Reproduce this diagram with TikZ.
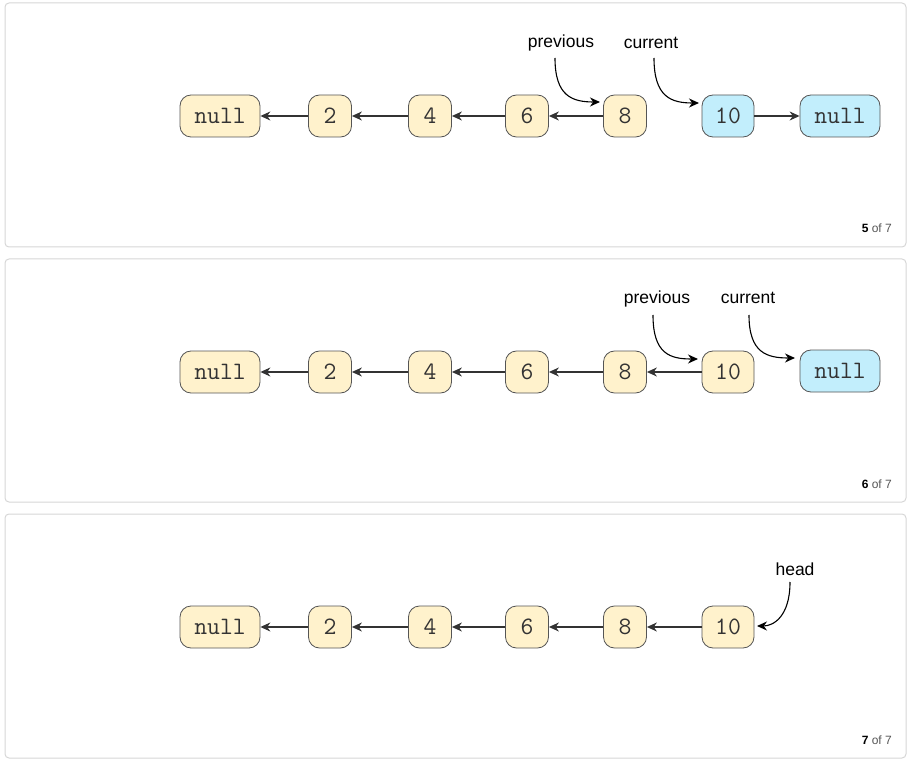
\documentclass[tikz,border=0pt]{standalone}
\usepackage{fontspec}
\setmainfont{Liberation Sans}
\usetikzlibrary{arrows.meta,positioning}
\definecolor{nodeyellow}{HTML}{FFF2CC}
\definecolor{nodeblue}{HTML}{C2EEFC}
\definecolor{nodeborder}{HTML}{555555}
\definecolor{textdark}{HTML}{333333}
\definecolor{panelborder}{HTML}{D6D6D6}
\definecolor{pagegray}{HTML}{555555}
\tikzset{
  box/.style={draw=nodeborder, line width=0.8pt, rounded corners=11pt, inner sep=0pt,
    minimum height=42pt, font=\ttfamily\fontsize{25}{25}\selectfont, text=textdark},
  small/.style={box, fill=nodeyellow, minimum width=43pt},
  ten/.style={box, minimum width=52pt},
  nullbox/.style={box, minimum width=80pt},
  link/.style={draw=textdark, line width=1.2pt, -{Stealth[length=10pt,width=9pt]}},
  pointer/.style={draw=black, line width=1.1pt, -{Stealth[length=10pt,width=9pt]}},
  lbl/.style={inner sep=0pt, font=\fontsize{17.5}{17.5}\selectfont, text=black},
  panel/.style={draw=panelborder, line width=1pt, rounded corners=4pt},
  pagelbl/.style={inner sep=0pt, anchor=east, font=\fontsize{12}{12}\selectfont, text=pagegray}
}
\begin{document}
\begin{tikzpicture}[x=1pt,y=-1pt]
\useasboundingbox (0,0) rectangle (911,762);
% panels
\draw[panel] (5,3) rectangle (906,247);
\draw[panel] (5,259) rectangle (906,502);
\draw[panel] (5,514) rectangle (906,758);

% ---------- panel 1 ----------
\node[nullbox, fill=nodeyellow] (a0) at (220,116) {null};
\node[small] (a2) at (330,116) {2};
\node[small] (a4) at (430,116) {4};
\node[small] (a6) at (527,116) {6};
\node[small] (a8) at (625,116) {8};
\node[ten, fill=nodeblue] (a10) at (728,116) {10};
\node[nullbox, fill=nodeblue] (an) at (840,116) {null};
\draw[link] (a2) -- (a0);
\draw[link] (a4) -- (a2);
\draw[link] (a6) -- (a4);
\draw[link] (a8) -- (a6);
\draw[link] (a10) -- (an);
\node[lbl] (aprev) at (561,43) {previous};
\node[lbl] (acur) at (651,43) {current};
\coordinate (aprevs) at (555,58);
\coordinate (aprevt) at (600,102);
\coordinate (acurs) at (654,58);
\coordinate (acurt) at (699,103);
\draw[pointer] (aprevs) .. controls (555,96) and (572,102) .. (aprevt);
\draw[pointer] (acurs) .. controls (654,97) and (671,103) .. (acurt);
\node[pagelbl] (ap) at (892,228) {\textcolor{black}{\bfseries 5} of 7};

% ---------- panel 2 ----------
\node[nullbox, fill=nodeyellow] (b0) at (220,372) {null};
\node[small] (b2) at (330,372) {2};
\node[small] (b4) at (430,372) {4};
\node[small] (b6) at (527,372) {6};
\node[small] (b8) at (625,372) {8};
\node[ten, fill=nodeyellow] (b10) at (728,372) {10};
\node[nullbox, fill=nodeblue] (bn) at (840,371) {null};
\draw[link] (b2) -- (b0);
\draw[link] (b4) -- (b2);
\draw[link] (b6) -- (b4);
\draw[link] (b8) -- (b6);
\draw[link] (b10) -- (b8);
\node[lbl] (bprev) at (657,299) {previous};
\node[lbl] (bcur) at (748,298) {current};
\coordinate (bprevs) at (653,315);
\coordinate (bprevt) at (698,359);
\coordinate (bcurs) at (749,315);
\coordinate (bcurt) at (795,358);
\draw[pointer] (bprevs) .. controls (653,354) and (670,359) .. (bprevt);
\draw[pointer] (bcurs) .. controls (749,353) and (767,358) .. (bcurt);
\node[pagelbl] (bp) at (892,484) {\textcolor{black}{\bfseries 6} of 7};

% ---------- panel 3 ----------
\node[nullbox, fill=nodeyellow] (c0) at (220,627) {null};
\node[small] (c2) at (330,627) {2};
\node[small] (c4) at (430,627) {4};
\node[small] (c6) at (527,627) {6};
\node[small] (c8) at (625,627) {8};
\node[ten, fill=nodeyellow] (c10) at (728,627) {10};
\draw[link] (c2) -- (c0);
\draw[link] (c4) -- (c2);
\draw[link] (c6) -- (c4);
\draw[link] (c8) -- (c6);
\draw[link] (c10) -- (c8);
\node[lbl] (chead) at (795,569) {head};
\coordinate (cheads) at (790,582);
\coordinate (cheadt) at (757,626);
\draw[pointer] (cheads) .. controls (790,617) and (773,626) .. (cheadt);
\node[pagelbl] (cp) at (892,740) {\textcolor{black}{\bfseries 7} of 7};
\end{tikzpicture}
\end{document}
